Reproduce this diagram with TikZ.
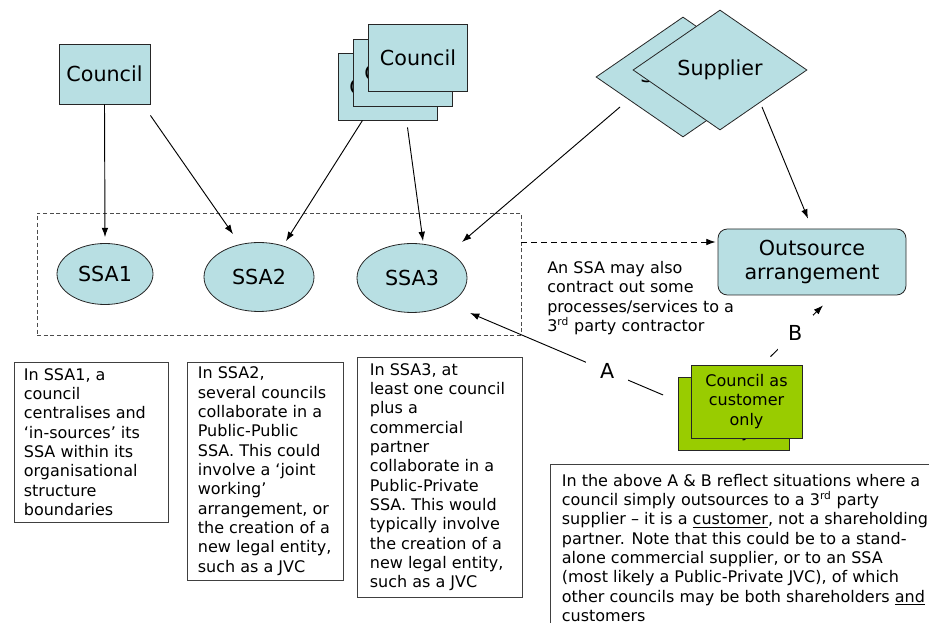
\documentclass[tikz,border=0pt]{standalone}
\usepackage{fontspec}
\setmainfont{DejaVu Sans}
\usetikzlibrary{shapes.geometric,arrows.meta,calc}
\definecolor{paleblue}{RGB}{184,223,227}
\definecolor{leafgreen}{RGB}{153,204,0}

\begin{document}
\begin{tikzpicture}[x=0.75pt,y=-0.75pt,
  big/.style={font=\fontsize{15.5}{18}\selectfont},
  small/.style={font=\fontsize{12}{14.5}\selectfont},
  bluebox/.style={draw=black!85, line width=0.6pt, fill=paleblue, big, inner sep=0pt, align=center},
  greenbox/.style={draw=black!85, line width=0.6pt, fill=leafgreen, small, inner sep=0pt, align=center,
    minimum width=83.25pt, minimum height=54.75pt},
  councilstack/.style={bluebox, minimum width=74.25pt, minimum height=50.25pt},
  supplierbox/.style={bluebox, diamond, aspect=1.45, minimum width=130.5pt, minimum height=90pt},
  ssanode/.style={bluebox, ellipse},
  notebox/.style={draw=black!75, line width=0.6pt, inner sep=0pt},
  para/.style={small, align=left, inner sep=0pt},
  arr/.style={-{Latex[length=7pt,width=5pt]}, line width=0.7pt},
  dasharr/.style={arr, dash pattern=on 4.5pt off 3pt},
  lbl/.style={big, fill=white, inner sep=0pt}
]
\useasboundingbox (0,0) rectangle (929,623);
\clip (0,0) rectangle (929,623);

% dashed frame around the three shared service arrangements
\node[draw=black!70, line width=0.6pt, dash pattern=on 3pt off 2pt,
      minimum width=363pt, minimum height=91.5pt] (frame) at (279,274) {};

% single council
\node[bluebox, minimum width=68.25pt, minimum height=45pt] (c1) at (104.5,74) {Council};

% stack of several councils
\node[councilstack] (c2a) at (387.5,86.5) {Council};
\node[councilstack] (c2b) at (402.5,72.5) {Council};
\node[councilstack] (c2c) at (418,57.5) {Council};

% stack of suppliers
\node[supplierbox] (s1) at (683,77) {Supplier};
\node[supplierbox] (s2) at (720,70) {Supplier};

% shared service arrangements
\node[ssanode, minimum width=72pt, minimum height=45.75pt] (ssa1) at (105,274) {SSA1};
\node[ssanode, minimum width=82.5pt, minimum height=51.75pt] (ssa2) at (259,277) {SSA2};
\node[ssanode, minimum width=82.5pt, minimum height=51.75pt] (ssa3) at (412,278) {SSA3};

% outsourcing
\node[bluebox, rounded corners=7pt, minimum width=141pt, minimum height=49.5pt] (out) at (812,262)
  {Outsource\\arrangement};

% council acting only as customer
\node[greenbox] (gb) at (734,413.5) {Council as\\customer\\only};
\node[greenbox] (gf) at (746.5,401.5) {Council as\\customer\\only};

% explanatory text
\node[para, anchor=north west] (contract) at (547,261)
  {An SSA may also\\contract out some\\processes/services to a\\3\textsuperscript{rd} party contractor};

\node[notebox, minimum width=115.5pt, minimum height=120pt] (b1) at (91,442) {};
\node[para, anchor=west] (b1t) at ([shift={(10,0)}]b1.west)
  {In SSA1, a\\council\\centralises and\\‘in-sources’ its\\SSA within its\\organisational\\structure\\boundaries};

\node[notebox, minimum width=117pt, minimum height=163.5pt] (b2) at (265,471) {};
\node[para, anchor=west] (b2t) at ([shift={(11,0)}]b2.west)
  {In SSA2,\\several councils\\collaborate in a\\Public-Public\\SSA. This could\\involve a ‘joint\\working’\\arrangement, or\\the creation of a\\new legal entity,\\such as a JVC};

\node[notebox, minimum width=123.75pt, minimum height=180pt] (b3) at (439.5,477) {};
\node[para, anchor=west] (b3t) at ([shift={(13,0)}]b3.west)
  {In SSA3, at\\least one council\\plus a\\commercial\\partner\\collaborate in a\\Public-Private\\SSA. This would\\typically involve\\the creation of a\\new legal entity,\\such as a JVC};

\node[notebox, minimum width=292.5pt, minimum height=132pt] (b4) at (745,552) {};
\node[para, anchor=north west] (b4t) at ([shift={(12,10)}]b4.north west)
  {In the above A \& B reflect situations where a\\council simply outsources to a 3\textsuperscript{rd} party\\supplier – it is a \underline{customer}, not a shareholding\\partner. Note that this could be to a stand-\\alone commercial supplier, or to an SSA\\(most likely a Public-Private JVC), of which\\other councils may be both shareholders \underline{and}\\customers};

% connectors
\draw[arr] (c1.south) -- ([shift={(0,-6)}]ssa1.north);
\draw[arr] ([shift={(0,11)}]c1.south east) -- ([shift={(-26,-8)}]ssa2.north);
\draw[arr] ([shift={(-25,0)}]c2a.south) -- ([shift={(27,-1)}]ssa2.north);
\draw[arr] ([shift={(20,7)}]c2a.south) -- ([shift={(11,-2)}]ssa3.north);
\draw[arr] ([shift={(-63,30)}]s1.center) -- ([shift={(50,-36)}]ssa3.center);
\draw[arr] ([shift={(42,37)}]s2.center) -- ([shift={(-4,-10)}]out.north);

\coordinate (dashend) at ([shift={(-2,-20)}]out.west);
\draw[dasharr] (frame.east |- dashend) -- (dashend);

\draw[arr] ([shift={(-15,-18.5)}]gb.west) --
  node[lbl, pos=0.29, inner xsep=10.5pt, inner ysep=6pt] (la) {A}
  ([shift={(58,35)}]ssa3.center);
\draw[arr] ([shift={(24,-8)}]gf.north) --
  node[lbl, pos=0.47, inner xsep=7.8pt, inner ysep=7.5pt] (lb) {B}
  ([shift={(11,10)}]out.south);
\end{tikzpicture}
\end{document}
